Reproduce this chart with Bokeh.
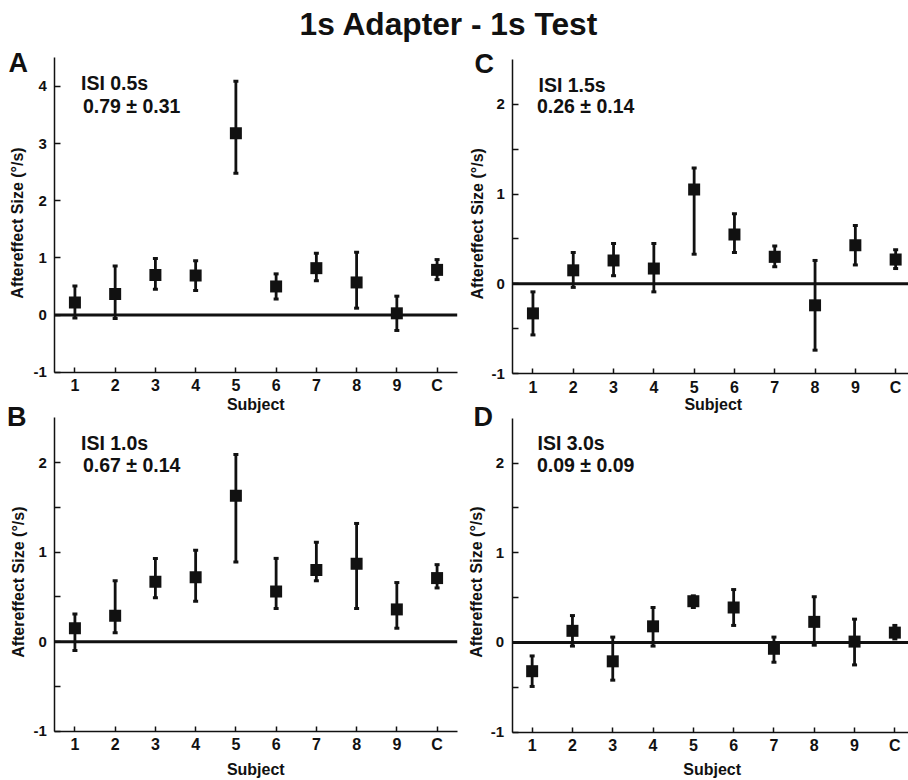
import math
from bokeh.plotting import figure
from bokeh.models import Label, FixedTicker, Range1d
from bokeh.layouts import column, row
from bokeh.embed import file_html
from bokeh.resources import INLINE

# ---------------- data ----------------
subjects = ["1", "2", "3", "4", "5", "6", "7", "8", "9", "C"]

# Panel A: ISI 0.5s
a_mean = [0.22, 0.37, 0.70, 0.69, 3.18, 0.50, 0.82, 0.57, 0.03, 0.79]
a_hi = [0.51, 0.86, 0.99, 0.95, 4.09, 0.72, 1.08, 1.10, 0.33, 0.97]
a_lo = [-0.05, -0.06, 0.45, 0.43, 2.48, 0.28, 0.60, 0.12, -0.27, 0.62]

# Panel B: ISI 1.0s
b_mean = [0.15, 0.29, 0.67, 0.72, 1.63, 0.56, 0.80, 0.87, 0.36, 0.71]
b_hi = [0.31, 0.68, 0.93, 1.02, 2.09, 0.93, 1.11, 1.32, 0.66, 0.86]
b_lo = [-0.10, 0.10, 0.49, 0.45, 0.89, 0.37, 0.68, 0.37, 0.15, 0.60]

# Panel C: ISI 1.5s
c_mean = [-0.33, 0.15, 0.26, 0.17, 1.05, 0.55, 0.30, -0.24, 0.43, 0.27]
c_hi = [-0.09, 0.35, 0.45, 0.45, 1.29, 0.78, 0.42, 0.26, 0.65, 0.38]
c_lo = [-0.57, -0.04, 0.09, -0.09, 0.33, 0.35, 0.19, -0.74, 0.21, 0.17]

# Panel D: ISI 3.0s
d_mean = [-0.32, 0.13, -0.21, 0.18, 0.46, 0.39, -0.07, 0.23, 0.01, 0.11]
d_hi = [-0.15, 0.30, 0.06, 0.39, 0.52, 0.59, 0.06, 0.51, 0.26, 0.19]
d_lo = [-0.49, -0.04, -0.42, -0.04, 0.39, 0.19, -0.22, -0.03, -0.25, 0.04]

panel_letters = ["A", "B", "C", "D"]
isi_labels = ["ISI 0.5s", "ISI 1.0s", "ISI 1.5s", "ISI 3.0s"]
summary_labels = ["0.79 \u00b1 0.31", "0.67 \u00b1 0.14", "0.26 \u00b1 0.14", "0.09 \u00b1 0.09"]

y_ticks_big = [-1, 0, 1, 2, 3, 4]
y_ticks_small = [-1, 0, 1, 2]
y_minor_small = [-0.5, 0.5, 1.5]

title_text = "1s Adapter - 1s Test"
y_title = "Aftereffect Size (\u00b0/s)"
x_title = "Subject"

FONT = "Liberation Sans"
INK = "#111111"
K_BASE = 0.38   # label text is drawn about this many em below its anchor
OVERLAP = 22    # second row of panels slides up under the first one's bottom border

# ---------------- layout geometry (page pixels, page origin at 0,0) ----------------
ROW2_TOP = 420 - OVERLAP
ROW2_H = 780 - ROW2_TOP
geo = {
    "A": dict(ox=0, oy=45, cw=466, ch=375, left=54.3, right=456.7, top=57.3, bottom=371.7,
              x0=0.5, x1=10.5, y0=-1, y1=4.5),
    "C": dict(ox=466, oy=45, cw=442, ch=375, left=512.3, right=915.3, top=59.0, bottom=373.0,
              x0=0.5, x1=10.5, y0=-1, y1=2.5),
    "B": dict(ox=0, oy=ROW2_TOP, cw=466, ch=ROW2_H, left=54.3, right=456.7, top=417.3,
              bottom=730.7, x0=0.5, x1=10.5, y0=-1, y1=2.5),
    "D": dict(ox=466, oy=ROW2_TOP, cw=442, ch=ROW2_H, left=511.5, right=914.5, top=417.7,
              bottom=731.7, x0=0.5, x1=10.5, y0=-1, y1=2.5),
}
for g in geo.values():
    g["ppx"] = (g["right"] - g["left"]) / (g["x1"] - g["x0"])
    g["ppy"] = (g["bottom"] - g["top"]) / (g["y1"] - g["y0"])


def page_to_data(g, px, py):
    return (g["x0"] + (px - g["left"]) / g["ppx"],
            g["y0"] + (g["bottom"] - py) / g["ppy"])


# wanted text baselines in page pixels
ann = {
    "A": dict(letter=(8.0, 72.7), ylab=(23.5, 222.5), xlab=(255.3, 410.5),
              l1=(80.5, 90.0), l2=(82.5, 112.7)),
    "C": dict(letter=(474.0, 73.3), ylab=(482.7, 223.3), xlab=(712.8, 410.5),
              l1=(538.0, 91.7), l2=(536.5, 112.7)),
    "B": dict(letter=(6.5, 427.0), ylab=(24.0, 581.7), xlab=(255.3, 775.5),
              l1=(80.5, 450.0), l2=(82.5, 471.7)),
    "D": dict(letter=(473.0, 427.0), ylab=(481.7, 581.7), xlab=(711.7, 775.5),
              l1=(537.0, 450.0), l2=(536.5, 471.7)),
}

series = {
    "A": (a_mean, a_lo, a_hi),
    "B": (b_mean, b_lo, b_hi),
    "C": (c_mean, c_lo, c_hi),
    "D": (d_mean, d_lo, d_hi),
}


def text_label(g, pos, text, size_px, rotated=False, **kw):
    px, py = pos
    if rotated:
        px -= K_BASE * size_px
    else:
        py -= K_BASE * size_px
    x, y = page_to_data(g, px, py)
    opts = dict(text_font=FONT, text_font_size=f"{size_px}px", text_font_style="bold",
                text_color=INK, text_align="left", text_baseline="alphabetic")
    if rotated:
        opts["angle"] = math.pi / 2
    opts.update(kw)
    return Label(x=x, y=y, text=text, **opts)


def make_panel(key):
    g = geo[key]
    idx = panel_letters.index(key)
    mean, lo, hi = series[key]
    xs = [i + 1 for i in range(len(subjects))]

    # frame covers the whole canvas; axes are pinned to the data box
    xr0, _ = page_to_data(g, g["ox"], 0)
    xr1, _ = page_to_data(g, g["ox"] + g["cw"], 0)
    _, yr1 = page_to_data(g, 0, g["oy"])
    _, yr0 = page_to_data(g, 0, g["oy"] + g["ch"])

    p = figure(width=g["cw"], height=g["ch"], output_backend="svg", toolbar_location=None,
               title=None, x_range=Range1d(xr0, xr1), y_range=Range1d(yr0, yr1),
               min_border=0)
    p.outline_line_color = None
    p.grid.visible = False
    p.background_fill_color = None
    p.border_fill_color = None

    p.xaxis.fixed_location = g["y0"]
    p.yaxis.fixed_location = g["x0"]
    p.xaxis.bounds = (g["x0"], g["x1"])
    p.yaxis.bounds = (g["y0"], g["y1"])

    p.xaxis.ticker = FixedTicker(ticks=xs)
    p.xaxis.major_label_overrides = {x: s for x, s in zip(xs, subjects)}
    p.xaxis.minor_tick_line_color = None
    yt = y_ticks_big if g["y1"] > 3 else y_ticks_small
    if g["y1"] > 3:
        p.yaxis.ticker = FixedTicker(ticks=yt)
        p.yaxis.minor_tick_line_color = None
    else:
        p.yaxis.ticker = FixedTicker(ticks=yt, minor_ticks=y_minor_small)
        p.yaxis.minor_tick_in = 6
        p.yaxis.minor_tick_out = 0
        p.yaxis.minor_tick_line_color = INK
        p.yaxis.minor_tick_line_width = 1.5
    p.yaxis.major_label_overrides = {t: str(t) for t in yt}
    for ax in (p.xaxis, p.yaxis):
        ax.axis_line_color = INK
        ax.axis_line_width = 1.5
        ax.major_tick_line_color = INK
        ax.major_tick_line_width = 1.5
        ax.major_tick_out = 0
        ax.major_label_text_font = FONT
        ax.major_label_text_font_style = "bold"
        ax.major_label_text_color = INK
    p.xaxis.major_tick_in = 5
    p.yaxis.major_tick_in = 6
    p.xaxis.major_label_text_font_size = "16px"
    p.yaxis.major_label_text_font_size = "15px"
    p.xaxis.major_label_standoff = 5
    p.yaxis.major_label_standoff = 8

    # zero line across the axes box
    p.segment(x0=[g["x0"]], y0=[0], x1=[g["x1"]], y1=[0], line_color=INK, line_width=3)

    # error bars
    p.segment(x0=xs, y0=lo, x1=xs, y1=hi, line_color=INK, line_width=2.8)
    p.scatter(x=xs + xs, y=lo + hi, marker="dash", size=5, line_color=INK, line_width=3)
    # means
    p.scatter(x=xs, y=mean, marker="square", size=12, fill_color=INK, line_color=None)

    a = ann[key]
    p.add_layout(text_label(g, a["letter"], key, 27))
    p.add_layout(text_label(g, a["ylab"], y_title, 16, rotated=True, text_align="center"))
    p.add_layout(text_label(g, a["xlab"], x_title, 16, text_align="center"))
    p.add_layout(text_label(g, a["l1"], isi_labels[idx], 19.5))
    p.add_layout(text_label(g, a["l2"], summary_labels[idx], 19.5))
    return p


# title strip
tw, th = 908, 45
tp = figure(width=tw, height=th, output_backend="svg", toolbar_location=None, title=None,
            x_range=Range1d(0, tw), y_range=Range1d(0, th),
            x_axis_type=None, y_axis_type=None, min_border=0)
tp.outline_line_color = None
tp.grid.visible = False
tp.background_fill_color = None
tp.border_fill_color = None
title_size = 31.7
tp.add_layout(Label(x=448.5, y=th - (36 - K_BASE * title_size), text=title_text, text_font=FONT,
                    text_font_size=f"{title_size}px", text_font_style="bold", text_color=INK,
                    text_align="center", text_baseline="alphabetic"))

pA = make_panel("A")
pB = make_panel("B")
pC = make_panel("C")
pD = make_panel("D")

layout = column(tp, row(pA, pC), row(pB, pD, margin=(-OVERLAP, 0, 0, 0)))

open("out.html", "w").write(file_html(layout, INLINE))
